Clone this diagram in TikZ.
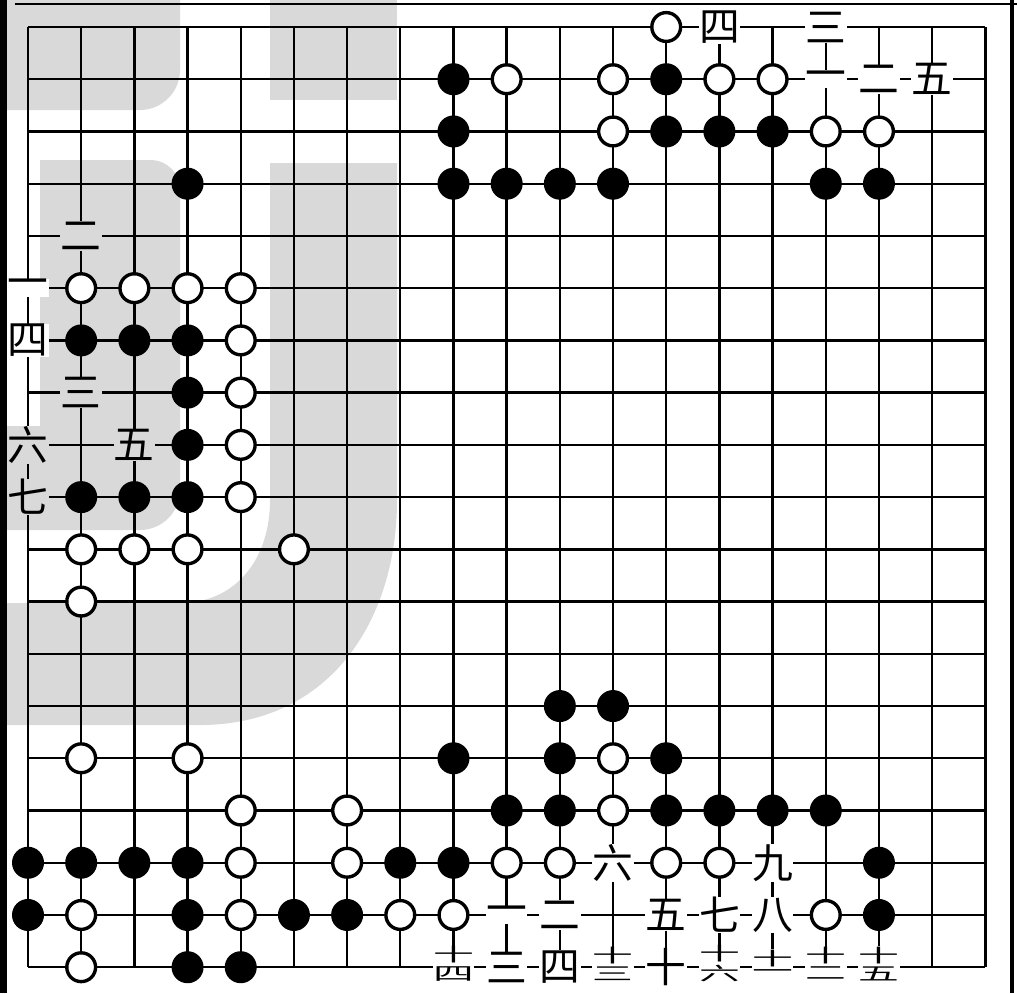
\documentclass[tikz,border=0pt]{standalone}
\usepackage{fontspec}
\usepackage{graphicx}
\newfontfamily\cjk{Noto Sans CJK SC}
\definecolor{wmark}{RGB}{217,217,217}
% two-digit numbers squeezed into one square
\newcommand{\tenplus}[1]{\vbox{\offinterlineskip
    \hbox{\scalebox{1}[0.45]{十}}\kern2pt\hbox{\scalebox{1}[0.45]{#1}}}}

\begin{document}
\begin{tikzpicture}[
        x=1.32925cm, y=-1.3055cm,
        grid line/.style={line width=1.7pt},
        black stone/.style={circle, fill=black, inner sep=0pt, minimum size=0.8cm},
        white stone/.style={circle, draw=black, line width=2.4pt, fill=white,
            inner sep=0pt, minimum size=0.72cm},
        num/.style={fill=white, inner sep=0.3pt, font=\cjk\fontsize{29}{29}\selectfont},
        num on mark/.style={num, fill=wmark},
        big num/.style={num, yshift=2.5pt}
    ]
    % page, frame and watermark in pixel units
    \begin{scope}[shift={(-0.5266,-0.5170)}, x=0.025cm, y=-0.025cm]
        \useasboundingbox (0,0) rectangle (1017,993);
        \fill[wmark] (0,0) -- (180,0) -- (180,70) .. controls (180,92) and (162,110) .. (140,110) -- (0,110) -- cycle;
        \fill[wmark] (270,0) rectangle (397,100);
        \fill[wmark] (40,160) -- (150,160) .. controls (167,160) and (180,173) .. (180,190)
            -- (180,490) .. controls (180,512) and (162,530) .. (140,530) -- (0,530) -- (0,437) -- (40,437) -- cycle;
        \fill[wmark] (270,163) -- (397,163) -- (397,500) .. controls (397,620) and (330,725) .. (200,725)
            -- (0,725) -- (0,603) -- (180,603) .. controls (235,603) and (270,560) .. (270,500) -- cycle;
        \fill[black] (0,0) rectangle (7,993);
        \draw[line width=1.5pt] (15,4) -- (1017,4);
        \draw[line width=3pt] (1012,0) -- (1012,993);
    \end{scope}

    % board
    \foreach \i in {0,...,18} {
        \draw[grid line] (\i,0) -- (\i,18);
        \draw[grid line] (0,\i) -- (18,\i);
    }

    % black stones
    \foreach \c/\r in {8/1,12/1, 8/2,12/2,13/2,14/2, 3/3,8/3,9/3,10/3,11/3,15/3,16/3,
            1/6,2/6,3/6, 3/7, 3/8, 1/9,2/9,3/9,
            10/13,11/13, 8/14,10/14,12/14, 9/15,10/15,12/15,13/15,14/15,15/15,
            0/16,1/16,2/16,3/16,7/16,8/16,16/16, 0/17,3/17,5/17,6/17,16/17, 3/18,4/18}
        \node[black stone] (b-\c-\r) at (\c,\r) {};

    % white stones
    \foreach \c/\r in {12/0, 9/1,11/1,13/1,14/1, 11/2,15/2,16/2,
            1/5,2/5,3/5,4/5, 4/6, 4/7, 4/8, 4/9, 1/10,2/10,3/10,5/10, 1/11,
            1/14,3/14,11/14, 4/15,6/15,11/15,
            4/16,6/16,9/16,10/16,12/16,13/16, 1/17,4/17,7/17,8/17,15/17, 1/18}
        \node[white stone] (w-\c-\r) at (\c,\r) {};

    % move numbers
    \node[num] (n-13-0) at (13,0) {四};
    \node[num] (n-15-0) at (15,0) {三};
    \node[num] (n-15-1) at (15,1) {一};
    \node[num] (n-16-1) at (16,1) {二};
    \node[num] (n-17-1) at (17,1) {五};

    \node[num on mark] (n-1-4) at (1,4) {二};
    \node[num] (n-0-5) at (0,5) {一};
    \node[num] (n-0-6) at (0,6) {四};
    \node[num on mark] (n-1-7) at (1,7) {三};
    \node[num on mark] (n-0-8) at (0,8) {六};
    \node[num on mark] (n-2-8) at (2,8) {五};
    \node[num on mark] (n-0-9) at (0,9) {七};

    \node[num] (n-11-16) at (11,16) {六};
    \node[num] (n-14-16) at (14,16) {九};
    \node[num] (n-9-17) at (9,17) {一};
    \node[num] (n-10-17) at (10,17) {二};
    \node[num] (n-12-17) at (12,17) {五};
    \node[num] (n-13-17) at (13,17) {七};
    \node[num] (n-14-17) at (14,17) {八};
    \node[big num] (n-8-18) at (8,18) {\tenplus{四}};
    \node[num] (n-9-18) at (9,18) {三};
    \node[num] (n-10-18) at (10,18) {四};
    \node[big num] (n-11-18) at (11,18) {\tenplus{三}};
    \node[num] (n-12-18) at (12,18) {十};
    \node[big num] (n-13-18) at (13,18) {\tenplus{六}};
    \node[big num] (n-14-18) at (14,18) {\tenplus{一}};
    \node[big num] (n-15-18) at (15,18) {\tenplus{二}};
    \node[big num] (n-16-18) at (16,18) {\tenplus{五}};
\end{tikzpicture}
\end{document}
